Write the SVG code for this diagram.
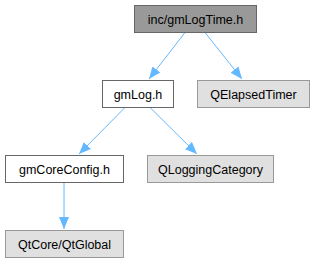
<svg xmlns="http://www.w3.org/2000/svg" width="315" height="261" viewBox="0 0 315 261">
<style>
rect{stroke-width:1}
.root rect{fill:#999999;stroke:#666666}
.int rect{fill:#ffffff;stroke:#666666}
.ext rect{fill:#e0e0e0;stroke:#999999}
text{font-family:"Liberation Sans",Arial,sans-serif;font-size:12.5px;text-anchor:middle;fill:#000000}
.edge{fill:none;stroke:#63b8ff;stroke-width:1}
</style>
<defs>
<marker id="ah" viewBox="0 0 12 12" refX="12" refY="6" markerWidth="12" markerHeight="12" markerUnits="userSpaceOnUse" orient="auto">
<path d="M0,1 L12,6 L0,11 Z" fill="#63b8ff"/>
</marker>
</defs>
<g id="connectors">
<path class="edge" d="M185,32.5 L149,79" marker-end="url(#ah)"/>
<path class="edge" d="M205,32.5 L242,79" marker-end="url(#ah)"/>
<path class="edge" d="M125,107.5 L79,154" marker-end="url(#ah)"/>
<path class="edge" d="M150,107.5 L197,154" marker-end="url(#ah)"/>
<path class="edge" d="M64,182.5 L64,229" marker-end="url(#ah)"/>
</g>
<g id="node1" class="root"><rect x="134.5" y="5.5" width="122" height="27"/><text x="195.5" y="23.5">inc/gmLogTime.h</text></g>
<g id="node2" class="int"><rect x="102.5" y="80.5" width="71" height="27"/><text x="138" y="98.5">gmLog.h</text></g>
<g id="node3" class="ext"><rect x="197.5" y="80.5" width="112" height="27"/><text x="253.5" y="98.5">QElapsedTimer</text></g>
<g id="node4" class="int"><rect x="5.5" y="155.5" width="118" height="27"/><text x="64.5" y="173.5">gmCoreConfig.h</text></g>
<g id="node5" class="ext"><rect x="147.5" y="155.5" width="126" height="27"/><text x="210.5" y="173.5">QLoggingCategory</text></g>
<g id="node6" class="ext"><rect x="5.5" y="230.5" width="118" height="27"/><text x="64.5" y="248.5">QtCore/QtGlobal</text></g>
</svg>
